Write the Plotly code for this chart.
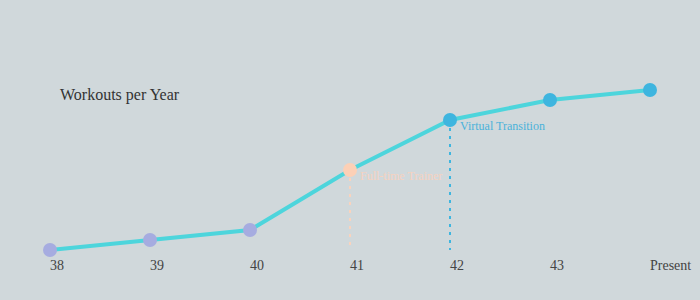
import plotly.graph_objects as go

# Data
years = [38, 39, 40, 41, 42, 43, 44]
tick_labels = ["38", "39", "40", "41", "42", "43", "Present"]
workouts = [50, 60, 70, 130, 180, 200, 210]
phase_colors = ["#A6ACE0", "#A6ACE0", "#A6ACE0", "#FCD0B6", "#3EB5DF", "#3EB5DF", "#3EB5DF"]

milestone_x = [41, 42]
milestone_y = [130, 180]
milestone_text = ["Full-time Trainer", "Virtual Transition"]
milestone_line_colors = ["#F9D3BE", "#3EB5DF"]
milestone_text_colors = ["#F6D2C0", "#4AB2DA"]

base_value = 50

fig = go.Figure()

# milestone dotted lines
for mx, my, c in zip(milestone_x, milestone_y, milestone_line_colors):
    fig.add_shape(type="line", x0=mx, x1=mx, y0=my, y1=base_value,
                  xref="x", yref="y", layer="below",
                  line=dict(color=c, width=2, dash="3px,5px"))

fig.add_trace(go.Scatter(
    x=years, y=workouts, mode="lines+markers",
    line=dict(color="#4DD5DC", width=4),
    marker=dict(size=14, color=phase_colors, line=dict(width=0)),
    cliponaxis=False, showlegend=False,
))

for mx, my, t, c in zip(milestone_x, milestone_y, milestone_text, milestone_text_colors):
    fig.add_annotation(x=mx, y=my, text=t, showarrow=False, xanchor="left",
                       yanchor="middle", xshift=8, yshift=-6,
                       font=dict(family="Liberation Serif", size=12, color=c))

fig.add_annotation(x=(58 - 50) / 600, y=(260 - 95) / 210, xref="paper", yref="paper",
                   text="Workouts per Year",
                   showarrow=False, xanchor="left", yanchor="middle",
                   font=dict(family="Liberation Serif", size=16, color="#333333"))

fig.update_layout(
    width=700, height=300,
    margin=dict(l=50, r=50, t=50, b=40, autoexpand=False),
    paper_bgcolor="#D0D8DB", plot_bgcolor="#D0D8DB",
    font=dict(family="Liberation Serif", size=14, color="#444444"),
    xaxis=dict(range=[38, 44], tickvals=years, ticktext=tick_labels,
               showgrid=False, zeroline=False, showline=False, ticks="",
               automargin=False,
               ticklabelposition="outside right",
               ticklabelstandoff=-5,
               tickfont=dict(family="Liberation Serif", size=14, color="#444444")),
    yaxis=dict(range=[40, 250], showgrid=False, zeroline=False, showline=False,
               showticklabels=False, ticks="", automargin=False),
)

fig.write_html("out.html")
